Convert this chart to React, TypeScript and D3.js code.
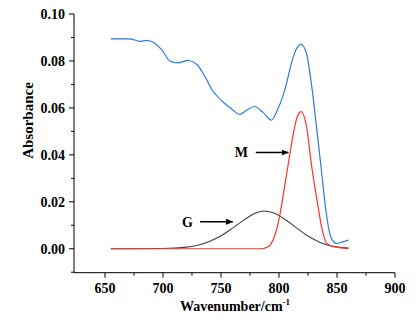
import * as d3 from "d3";

// wavenumbers (cm-1) and absorbance
const blueX = [655, 665, 673, 680, 686, 692, 699, 706, 713, 722, 729, 736, 743, 752, 760, 766, 772, 779, 786, 793.5, 798, 804, 812, 816, 819, 822, 824, 828, 832.5, 837, 841, 845, 849, 854, 860];
const blueY = [0.0894, 0.0894, 0.0893, 0.0883, 0.0888, 0.0879, 0.0847, 0.08, 0.0792, 0.0802, 0.0786, 0.0735, 0.0672, 0.0624, 0.0592, 0.0572, 0.059, 0.0606, 0.0582, 0.0548, 0.0585, 0.066, 0.0812, 0.086, 0.0872, 0.0855, 0.0826, 0.07, 0.0513, 0.0314, 0.0144, 0.0046, 0.0023, 0.0028, 0.0037];

const redX = [655, 700, 760, 785, 789, 793, 797, 801, 805, 809.5, 812, 815, 819, 824, 828, 832.5, 837, 841, 847, 853, 860];
const redY = [0, 0, 0, 0, 0.0005, 0.002, 0.0065, 0.0151, 0.027, 0.0407, 0.048, 0.055, 0.0584, 0.0513, 0.0357, 0.0215, 0.0087, 0.0023, 0.0009, 0.0004, 0.0002];

const grayX = [655, 700, 710, 720, 730, 740, 750, 760, 770, 780, 787, 795, 805, 815, 825, 835, 845, 855, 860];
const grayY = [0, 0.0001, 0.0003, 0.0007, 0.0015, 0.0031, 0.0055, 0.0088, 0.0123, 0.0152, 0.0161, 0.0153, 0.0126, 0.0089, 0.0054, 0.0028, 0.0012, 0.0005, 0.0003];

const xTicks = [650, 700, 750, 800, 850, 900];
const yTicks = [0, 0.02, 0.04, 0.06, 0.08, 0.1];

// peak labels with arrows, in data units
const notes = [
  { label: "M", x: 767.5, y: 0.041, from: 780, to: 808 },
  { label: "G", x: 721, y: 0.0115, from: 732, to: 760 },
];

const W = 420;
const H = 321;
const serif = "'Liberation Serif', 'Times New Roman', serif";

export default function App() {
  const x = d3.scaleLinear().domain([623.3, 900]).range([74, 395]);
  const y = d3.scaleLinear().domain([-0.0102, 0.1]).range([272.7, 14]);

  const toPts = (xs: number[], ys: number[]) => xs.map((v, i) => [v, ys[i]] as [number, number]);

  const smooth = d3
    .line<[number, number]>()
    .x((d) => x(d[0]))
    .y((d) => y(d[1]))
    .curve(d3.curveCatmullRom.alpha(0.5));

  const mono = d3
    .line<[number, number]>()
    .x((d) => x(d[0]))
    .y((d) => y(d[1]))
    .curve(d3.curveMonotoneX);

  const xMinor = d3.range(675, 900, 50);
  const yMinor = d3.range(-0.01, 0.1, 0.02);
  const x0 = x.range()[0];
  const y0 = y.range()[0];

  return (
    <svg width={W} height={H} style={{ position: "absolute", left: 0, top: 0 }} fontFamily={serif}>
      <defs>
        <marker id="arr" viewBox="0 0 10 10" refX="9" refY="5" markerWidth="5" markerHeight="5" orient="auto">
          <path d="M0,1 L10,5 L0,9 z" fill="#000" />
        </marker>
      </defs>

      {/* axes */}
      <line x1={x0} x2={x0} y1={y(0.1)} y2={y0} stroke="#000" strokeWidth={1} />
      <line x1={x0} x2={x(900)} y1={y0} y2={y0} stroke="#000" strokeWidth={1} />

      {yTicks.map((t) => (
        <g key={t}>
          <line x1={x0 - 5} x2={x0} y1={y(t)} y2={y(t)} stroke="#000" />
          <text x={x0 - 9} y={y(t)} dy="0.35em" textAnchor="end" fontSize={14} fontWeight="bold">
            {t.toFixed(2)}
          </text>
        </g>
      ))}
      {yMinor.map((t) => (
        <line key={t} x1={x0 - 3} x2={x0} y1={y(t)} y2={y(t)} stroke="#000" />
      ))}

      {xTicks.map((t) => (
        <g key={t}>
          <line x1={x(t)} x2={x(t)} y1={y0} y2={y0 + 5} stroke="#000" />
          <text x={x(t)} y={y0 + 20.5} textAnchor="middle" fontSize={14} fontWeight="bold">
            {t}
          </text>
        </g>
      ))}
      {xMinor.map((t) => (
        <line key={t} x1={x(t)} x2={x(t)} y1={y0} y2={y0 + 3} stroke="#000" />
      ))}

      <text x={235} y={311} textAnchor="middle" fontSize={14} fontWeight="bold">
        Wavenumber/cm
        <tspan fontSize={9} dy={-6}>-1</tspan>
      </text>
      <text transform="translate(33,120.5) rotate(-90)" textAnchor="middle" fontSize={15} fontWeight="bold">
        Absorbance
      </text>

      {/* curves */}
      <path d={mono(toPts(grayX, grayY)) ?? ""} fill="none" stroke="#3f3f3f" strokeWidth={1.1} />
      <path d={mono(toPts(redX, redY)) ?? ""} fill="none" stroke="#ff3030" strokeWidth={1.2} />
      <path d={smooth(toPts(blueX, blueY)) ?? ""} fill="none" stroke="#2b7ce0" strokeWidth={1.2} />

      {notes.map((n) => (
        <g key={n.label}>
          <text x={x(n.x)} y={y(n.y)} dy="0.35em" textAnchor="middle" fontSize={14} fontWeight="bold">
            {n.label}
          </text>
          <line x1={x(n.from)} x2={x(n.to)} y1={y(n.y)} y2={y(n.y)} stroke="#000" strokeWidth={1.5} markerEnd="url(#arr)" />
        </g>
      ))}
    </svg>
  );
}
